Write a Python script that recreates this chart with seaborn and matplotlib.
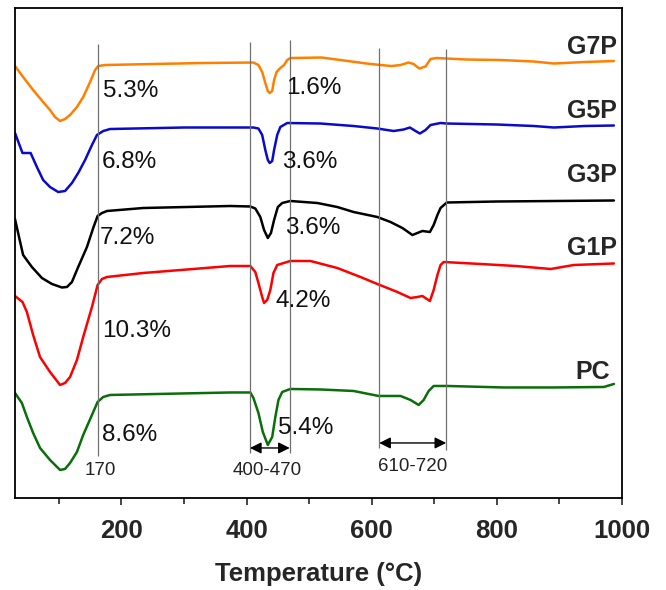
import pandas as pd
import numpy as np
import matplotlib
matplotlib.use('Agg')
import matplotlib.pyplot as plt
import seaborn as sns

# DTG curves (arbitrary stacked units)
t_g7p = [30, 43, 59, 75, 86, 94, 102, 110, 118, 129, 139, 150, 158, 163, 174, 250, 330, 411,
         419, 425, 430, 434, 437, 441, 444, 448, 454, 460, 465, 470,
         520, 592, 614, 632, 646, 659, 667, 676, 686, 694, 704, 752, 806, 859, 891, 939, 987]
y_g7p = [432, 421, 408, 396, 388, 381, 377, 379, 383, 391, 401, 416, 428, 432, 433, 434, 435, 435.5,
         433, 426, 415, 407, 405, 407, 418, 426, 430, 433, 438, 440,
         440.5, 434.5, 433, 432, 433, 435.5, 434, 429.5, 431.5, 439, 440, 438.5, 438, 436.5, 434.5, 436, 437]

t_g5p = [30, 42, 55, 65, 75, 86, 99, 110, 121, 131, 142, 153, 161, 171, 182, 300, 411,
         419, 425, 430, 434, 437, 441, 444, 449, 454, 465,
         518, 571, 609, 635, 651, 661, 670, 677, 686, 694, 710, 720, 800, 859, 891, 940, 987]
y_g5p = [365, 345, 345, 331, 318, 311, 306, 307, 315, 325, 338, 353, 363, 367, 369, 370.5, 370.5,
         369.5, 363, 348, 338, 335, 337, 348, 363, 371, 375,
         374.5, 372, 369.5, 367, 368.5, 370.5, 367, 364.5, 368, 373, 375, 374.5, 373.5, 372, 370.5, 372, 372.5]

t_g3p = [30, 35, 43, 57, 73, 89, 105, 113, 121, 131, 145, 155, 162, 169, 177, 235, 374,
         406, 414, 422, 428, 434, 439, 444, 450, 457, 470,
         513, 545, 571, 609, 630, 649, 665, 673, 681, 693, 699, 705, 710, 720, 800, 987]
y_g3p = [279, 265, 243, 231, 220, 214, 210.5, 211, 216, 231, 251, 270, 282, 285, 287, 290, 292,
         291.5, 289.5, 281, 268, 260, 265, 278, 291, 295, 297,
         295, 291, 286, 281, 276, 270, 263, 265, 267, 266, 273, 283, 290, 295.5, 296.5, 297.5]

t_g1p = [30, 42, 49, 59, 70, 86, 102, 110, 118, 129, 139, 153, 162, 169, 177, 235, 315, 374,
         406, 414, 419, 425, 428, 433, 438, 443, 449, 470,
         502, 545, 582, 609, 641, 662, 673, 681, 693, 699, 705, 710, 715, 774, 830, 886, 923, 987]
y_g1p = [202, 196, 186, 163, 141, 126, 113, 115, 121, 138, 161, 191, 213, 219, 221, 225, 229, 232,
         232, 226, 215, 201, 195, 198, 208, 225, 233, 237,
         237, 230, 221, 214, 206, 200, 201, 202, 197, 208, 223, 233, 236, 234, 232, 229, 233, 234.5]

t_pc = [30, 41, 49, 59, 70, 86, 102, 110, 118, 129, 139, 153, 162, 171, 182, 374,
        406, 411, 419, 426, 434, 441, 446, 451, 457, 470,
        518, 571, 611, 646, 662, 675, 683, 691, 699, 721, 811, 891, 971, 987]
y_pc = [105, 95, 81, 65, 50, 38, 28, 29, 35, 46, 63, 83, 96, 101, 103, 105.5,
        105.5, 100, 85, 66, 53, 61, 81, 98, 106, 109,
        108.5, 107, 102, 102, 98, 93, 98, 107, 112, 112, 110.5, 110.5, 111, 114]

samples = ['G7P', 'G5P', 'G3P', 'G1P', 'PC']
colors = ['#ff8000', '#0a0acc', '#000000', '#ff0000', '#0a6e0a']
label_x = [992, 992, 992, 992, 981]
label_y = [451, 387, 323, 250, 126]

# mass loss labels
pct_text = ['5.3%', '6.8%', '7.2%', '10.3%', '8.6%', '1.6%', '3.6%', '3.6%', '4.2%', '5.4%']
pct_x = [170, 169, 166, 170, 169, 463, 457, 462, 446, 450]
pct_y = [407, 336, 260, 167, 63, 410, 336, 270, 197, 70]

# vertical guide lines
vl_x = [162, 405.5, 469, 612, 719]
vl_lo = [42, 45, 45, 50, 48]
vl_hi = [454, 456, 458, 450, 449]

range_text = ['170', '400-470', '610-720']
range_x = [166, 433, 665]
range_y = [27, 27, 31]
arrows = [(405.5, 469, 50), (612, 719, 55)]

frames = []
for name, t, y in zip(samples, [t_g7p, t_g5p, t_g3p, t_g1p, t_pc],
                      [y_g7p, y_g5p, y_g3p, y_g1p, y_pc]):
    frames.append(pd.DataFrame({'T': t, 'DTG': y, 'sample': name}))
df = pd.concat(frames, ignore_index=True)

sns.set_style('ticks')
plt.rcParams['font.family'] = ['Liberation Sans', 'DejaVu Sans']

fig = plt.figure(figsize=(6.66, 5.9), dpi=100)
ax = fig.add_axes([0.0225, 0.156, 0.9115, 0.8304])

sns.lineplot(data=df, x='T', y='DTG', hue='sample', palette=dict(zip(samples, colors)),
             sort=False, estimator=None, linewidth=1.8, legend=False, ax=ax)

ax.vlines(vl_x, vl_lo, vl_hi, color='#707070', linewidth=0.9)

for x0, x1, ya in arrows:
    ax.annotate('', xy=(x1, ya), xytext=(x0, ya),
                arrowprops=dict(arrowstyle='<|-|>', color='black', lw=1.0,
                                mutation_scale=17, shrinkA=0, shrinkB=0))

for s, x, y in zip(pct_text, pct_x, pct_y):
    ax.text(x, y, s, fontsize=17.5, ha='left', va='center', color='#111111')

for s, x, y in zip(range_text, range_x, range_y):
    ax.text(x, y, s, fontsize=13.5, ha='center', va='center', color='#222222')

for s, x, y in zip(samples, label_x, label_y):
    ax.text(x, y, s, fontsize=18, fontweight='bold', ha='right', va='center')

ax.set_xlim(30, 1000)
ax.set_ylim(0, 490)
ax.set_xticks([200, 400, 600, 800, 1000])
ax.set_xticks(np.arange(100, 1000, 200), minor=True)
ax.set_yticks([])
ax.tick_params(axis='x', which='major', length=5, width=1.2, pad=10, labelsize=18.5)
ax.tick_params(axis='x', which='minor', length=4, width=1.2)
for lab in ax.get_xticklabels():
    lab.set_fontweight('bold')
ax.set_xlabel('Temperature (°C)', fontsize=18.5, fontweight='bold', labelpad=14)
ax.set_ylabel('')
for sp in ax.spines.values():
    sp.set_linewidth(1.3)
    sp.set_color('black')

fig.savefig('out.png', dpi=100)
plt.close()
